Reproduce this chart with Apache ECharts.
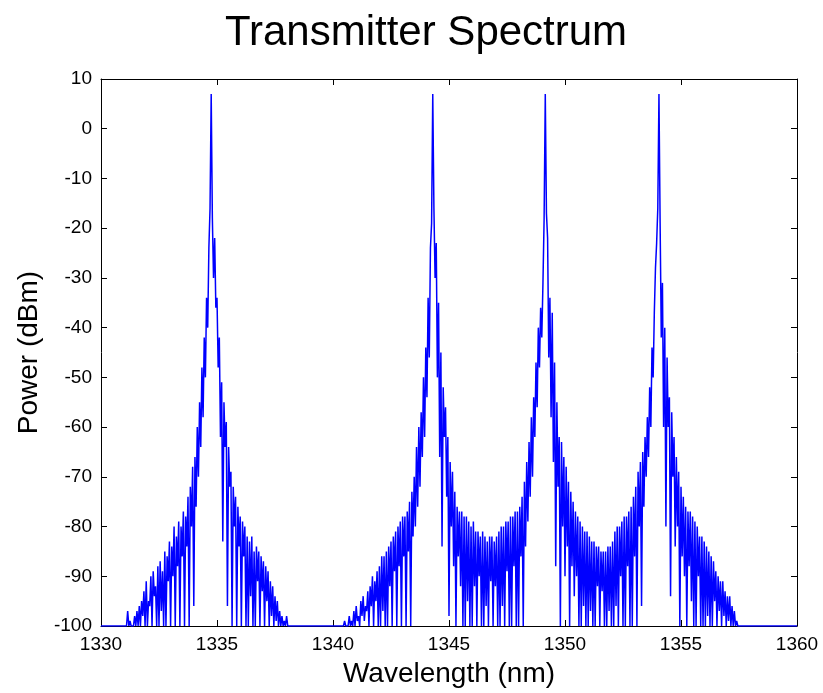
<!DOCTYPE html>
<html>
<head>
<meta charset="utf-8">
<title>Transmitter Spectrum</title>
<script src="https://cdn.jsdelivr.net/npm/echarts@6/dist/echarts.min.js"></script>
<style>
  html, body { margin: 0; padding: 0; background: #fff; }
  #chart { width: 823px; height: 693px; }
</style>
</head>
<body>
<div id="chart"></div>
<script>
// axis ticks
const xTicks = [1330, 1335, 1340, 1345, 1350, 1355, 1360]
const yTicks = [-100, -90, -80, -70, -60, -50, -40, -30, -20, -10, 0, 10]
// spectrum sample spacing (nm)
const step = 0.05
// noise floor (dBm)
const floor = -100

// lobe around 1335 nm (rows of 1 nm after the first value)
const startA = 1331.10
const powerA = [
  -100,
  -97,-100,-99,-100,-100,-100,-98,-100,-97,-100, -96,-100,-95,-98,-93,-100,-91,-100,-95,-96,
  -90,-100,-89,-94,-92,-100,-88,-100,-87,-97, -89,-100,-85,-100,-86,-91,-83,-100,-84,-90,
  -80,-100,-82,-88,-79,-100,-80,-86,-77,-100, -78,-84,-74,-100,-72,-80,-68,-96,-66,-76,
  -60,-70,-55,-64,-48,-58,-42,-50,-34,-40, -24,-16,7,-18,-30,-22,-36,-34,-48,-42,
  -62,-51,-83,-55,-64,-59,-96,-64,-72,-69, -100,-72,-80,-74,-100,-76,-84,-78,-100,-79,
  -86,-80,-100,-82,-100,-83,-94,-82,-100,-85, -100,-84,-91,-85,-100,-86,-93,-87,-100,-88,
  -95,-89,-100,-91,-98,-92,-100,-94,-99,-95, -100,-97,-100,-98,-100,-99,-100,-98,-100
]

// three lobes 1344 / 1349 / 1354 nm (rows of 1 nm after the first value)
const startB = 1340.45
const powerB = [
  -100,
  -99,-100,-100,-100,-98,-100,-99,-100,-97,-100, -96,-99,-98,-100,-95,-98,-94,-99,-96,-97,
  -93,-100,-92,-96,-90,-100,-91,-95,-89,-100, -88,-100,-86,-97,-86,-100,-85,-100,-84,-92,
  -83,-100,-82,-89,-81,-100,-80,-88,-79,-100, -78,-86,-78,-100,-77,-85,-75,-100,-73,-82,
  -70,-80,-64,-76,-60,-72,-57,-66,-50,-62, -44,-54,-34,-46,-24,-19,7,-16,-30,-23,
  -50,-35,-66,-45,-84,-52,-62,-56,-74,-62, -98,-67,-80,-69,-88,-73,-100,-76,-86,-77,
  -92,-77,-100,-78,-100,-78,-95,-79,-100,-80, -100,-79,-92,-81,-100,-81,-90,-82,-100,-81,
  -100,-82,-96,-83,-100,-82,-91,-82,-100,-83, -92,-82,-100,-81,-100,-80,-96,-80,-100,-79,
  -89,-79,-100,-78,-100,-78,-88,-77,-100,-77, -100,-76,-86,-74,-100,-71,-84,-67,-79,-63,
  -74,-58,-70,-54,-62,-47,-56,-40,-48,-36, -42,-31,-18,7,-17,-22,-46,-34,-58,-37,
  -67,-47,-88,-55,-72,-62,-100,-63,-80,-66, -90,-68,-84,-71,-100,-73,-88,-75,-94,-77,
  -90,-78,-100,-79,-100,-80,-96,-81,-100,-81, -100,-82,-97,-83,-100,-83,-100,-84,-92,-84,
  -100,-85,-93,-85,-100,-85,-100,-84,-97,-84, -100,-83,-100,-81,-96,-80,-100,-80,-90,-79,
  -100,-78,-100,-78,-88,-77,-100,-76,-100,-74, -86,-72,-100,-69,-80,-67,-96,-65,-76,-62,
  -70,-58,-66,-52,-60,-44,-50,-37,-28,-23, -16,7,-19,-42,-31,-60,-40,-80,-46,-60,
  -54,-94,-57,-70,-62,-84,-66,-80,-69,-100, -72,-86,-74,-90,-76,-100,-77,-88,-77,-95,
  -78,-100,-79,-100,-80,-90,-82,-100,-82,-100, -83,-100,-84,-98,-85,-100,-86,-100,-87,-95,
  -89,-100,-90,-97,-91,-100,-91,-98,-93,-100, -94,-99,-94,-100,-96,-100,-97,-100,-99,-100,
  -100
]

// build [wavelength, power] pairs
function toPoints(start, arr) {
  return arr.map((p, i) => [+(start + i * step).toFixed(2), p])
}
const points = [[xTicks[0], floor]]
  .concat(toPoints(startA, powerA))
  .concat(toPoints(startB, powerB))
  .concat([[xTicks[xTicks.length - 1], floor]])

const font = 'Liberation Sans, Arial, sans-serif'
const xMin = xTicks[0], xMax = xTicks[xTicks.length - 1]
const yMin = yTicks[0], yMax = yTicks[yTicks.length - 1]

// box with inner ticks on all four sides
const lineStyle = { color: '#000', width: 1 }
const axisLine = { show: true, onZero: false, lineStyle: lineStyle }
const tick = { show: true, inside: true, length: 6, lineStyle: lineStyle }
const label = { fontFamily: font, fontSize: 19, color: '#000', margin: 9, formatter: v => String(v) }

const myChart = echarts.init(document.getElementById('chart'))
myChart.setOption({
  animation: false,
  title: {
    text: 'Transmitter Spectrum',
    left: 421,
    top: 7,
    textAlign: 'center',
    textStyle: { fontFamily: font, fontSize: 42, fontWeight: 'normal', color: '#000' }
  },
  grid: { left: 101, right: 26, top: 79, bottom: 67 },
  xAxis: [
    {
      type: 'value',
      min: xMin, max: xMax, interval: xTicks[1] - xTicks[0],
      name: 'Wavelength (nm)',
      nameLocation: 'middle',
      nameGap: 34,
      nameTextStyle: { fontFamily: font, fontSize: 28, color: '#000' },
      axisLine: axisLine,
      axisTick: tick,
      axisLabel: label,
      splitLine: { show: false }
    },
    {
      type: 'value',
      position: 'top',
      min: xMin, max: xMax, interval: xTicks[1] - xTicks[0],
      axisLine: axisLine,
      axisTick: tick,
      axisLabel: { show: false },
      splitLine: { show: false }
    }
  ],
  yAxis: [
    {
      type: 'value',
      min: yMin, max: yMax, interval: yTicks[1] - yTicks[0],
      name: 'Power (dBm)',
      nameLocation: 'middle',
      nameGap: 58,
      nameTextStyle: { fontFamily: font, fontSize: 28, color: '#000' },
      axisLine: axisLine,
      axisTick: tick,
      axisLabel: label,
      splitLine: { show: false }
    },
    {
      type: 'value',
      position: 'right',
      min: yMin, max: yMax, interval: yTicks[1] - yTicks[0],
      axisLine: axisLine,
      axisTick: tick,
      axisLabel: { show: false },
      splitLine: { show: false }
    }
  ],
  series: [
    {
      type: 'line',
      xAxisIndex: 0,
      yAxisIndex: 0,
      data: points,
      showSymbol: false,
      symbol: 'none',
      lineStyle: { color: '#0000ff', width: 1.5 },
      z: 3
    }
  ]
})
</script>
</body>
</html>
